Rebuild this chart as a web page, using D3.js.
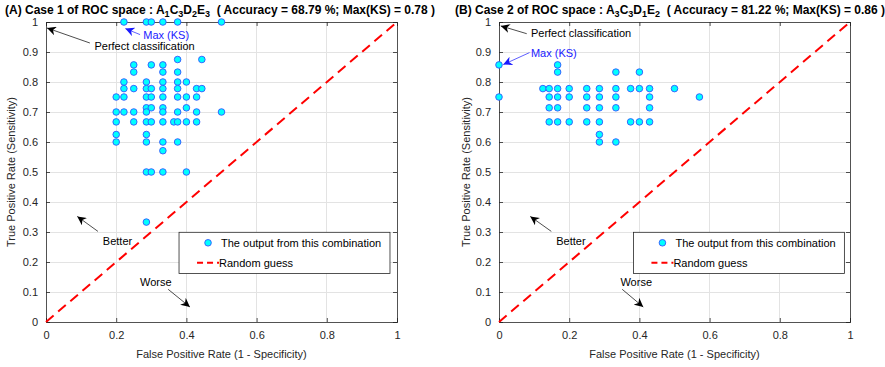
<!DOCTYPE html>
<html><head><meta charset="utf-8">
<script src="https://cdn.jsdelivr.net/npm/d3@7"></script>
<style>
html,body{margin:0;padding:0;background:#fff;}
svg{display:block;font-family:"Liberation Sans",Arial,Helvetica,sans-serif;}
text{white-space:pre;}
</style></head><body>
<svg id="chart" width="885" height="367"></svg>
<script>
// ---------- data ----------
const xTicks = [0, 0.2, 0.4, 0.6, 0.8, 1];
const yTicks = [0, 0.1, 0.2, 0.3, 0.4, 0.5, 0.6, 0.7, 0.8, 0.9, 1];
const xTickLabels = ["0", "0.2", "0.4", "0.6", "0.8", "1"];
const yTickLabels = ["0", "0.1", "0.2", "0.3", "0.4", "0.5", "0.6", "0.7", "0.8", "0.9", "1"];

// Case 1 (A): false positive rate, true positive rate
const fprA = [0.222,0.286,0.3,0.333,0.375,0.5,
  0.375,0.444,
  0.25,0.3,0.333,
  0.25,0.333,0.375,
  0.222,0.286,0.333,0.375,0.4,
  0.222,0.25,0.286,0.3,0.333,0.375,0.429,0.444,
  0.2,0.222,0.286,0.3,0.333,0.375,0.4,0.429,
  0.286,0.3,0.333,0.4,
  0.2,0.222,0.25,0.286,0.333,0.375,0.429,0.5,
  0.2,0.25,0.286,0.3,0.333,0.364,0.375,0.4,0.429,
  0.2,0.286,
  0.2,0.286,0.333,0.375,
  0.333,
  0.286,0.3,0.333,0.4,
  0.286];
const tprA = [1,1,1,1,1,1,
  0.875,0.875,
  0.857,0.857,0.857,
  0.833,0.833,0.833,
  0.8,0.8,0.8,0.8,0.8,
  0.778,0.778,0.778,0.778,0.778,0.778,0.778,0.778,
  0.75,0.75,0.75,0.75,0.75,0.75,0.75,0.75,
  0.714,0.714,0.714,0.714,
  0.7,0.7,0.7,0.7,0.7,0.7,0.7,0.7,
  0.667,0.667,0.667,0.667,0.667,0.667,0.667,0.667,0.667,
  0.625,0.625,
  0.6,0.6,0.6,0.6,
  0.571,
  0.5,0.5,0.5,0.5,
  0.333];

// Case 2 (B)
const fprB = [0,0,
  0.167,
  0.167,0.333,0.4,
  0.125,0.143,0.167,0.2,0.25,0.286,0.333,0.375,0.4,0.429,0.5,
  0.143,0.167,0.2,0.25,0.286,0.333,0.429,0.571,
  0.143,0.167,0.25,0.286,0.333,0.429,
  0.143,0.167,0.2,0.25,0.286,0.375,0.4,0.429,
  0.286,
  0.286,0.333];
const tprB = [0.857,0.75,
  0.857,
  0.833,0.833,0.833,
  0.778,0.778,0.778,0.778,0.778,0.778,0.778,0.778,0.778,0.778,0.778,
  0.75,0.75,0.75,0.75,0.75,0.75,0.75,0.75,
  0.714,0.714,0.714,0.714,0.714,0.714,
  0.667,0.667,0.667,0.667,0.667,0.667,0.667,0.667,
  0.625,
  0.6,0.6];

const randomGuess = [[0,0],[1,1]];

// ---------- layout ----------
const svg = d3.select("#chart");
const axisColor = "#262626";
const gridColor = "#e3e3e3";
const yTop = 22, yBot = 322;

const panels = [
  { x0: 46, x1: 397, fpr: fprA, tpr: tprA,
    titleX: 5, pre: "(A) Case 1 of ROC space : ",
    comb: [["A","1"],["C","3"],["D","2"],["E","3"]],
    post: "\u00a0\u00a0( Accuracy = 68.79 %; Max(KS) = 0.78 )",
    ylabelX: 15,
    perfect: {tip:[0.003,0.98], tail:[0.125,0.93], text:[0.138,0.907]},
    maxks: {tip:[0.226,0.978], tail:[0.268,0.958], text:[0.277,0.942]},
    better: {tip:[0.089,0.352], tail:[0.148,0.302], text:[0.162,0.256]},
    worse: {tail:[0.348,0.109], tip:[0.41,0.05], text:[0.268,0.119]},
    legend: {left:0.379, right:0.98, top:0.299, bottom:0.162}
  },
  { x0: 499, x1: 850, fpr: fprB, tpr: tprB,
    titleX: 455, pre: "(B) Case 2 of ROC space : ",
    comb: [["A","3"],["C","3"],["D","1"],["E","2"]],
    post: "\u00a0\u00a0( Accuracy = 81.22 %; Max(KS) = 0.86 )",
    ylabelX: 470,
    perfect: {tip:[0.005,0.987], tail:[0.079,0.961], text:[0.091,0.95]},
    maxks: {tip:[0.012,0.858], tail:[0.087,0.898], text:[0.091,0.883]},
    better: {tip:[0.089,0.352], tail:[0.149,0.302], text:[0.163,0.256]},
    worse: {tail:[0.351,0.109], tip:[0.411,0.05], text:[0.346,0.119]},
    legend: {left:0.383, right:0.984, top:0.299, bottom:0.162}
  }
];

const defs = svg.append("defs");
function arrowMarker(id, color){
  defs.append("marker").attr("id", id)
    .attr("viewBox","0 0 10 10").attr("refX",10).attr("refY",5)
    .attr("markerWidth",9).attr("markerHeight",9).attr("markerUnits","userSpaceOnUse")
    .attr("orient","auto")
    .append("path").attr("d","M0,0 L10,5 L0,10 L3,5 Z").attr("fill",color);
}
arrowMarker("arrK","#000");
arrowMarker("arrB","#1a1aff");

panels.forEach(p => {
  const x = d3.scaleLinear().domain([0,1]).range([p.x0, p.x1]);
  const y = d3.scaleLinear().domain([0,1]).range([yBot, yTop]);
  const g = svg.append("g");

  // grid
  g.append("g").selectAll("line").data(xTicks.slice(1,-1)).join("line")
    .attr("x1", d=>x(d)).attr("x2", d=>x(d)).attr("y1", yTop).attr("y2", yBot)
    .attr("stroke", gridColor).attr("stroke-width",1).attr("shape-rendering","crispEdges");
  g.append("g").selectAll("line").data(yTicks.slice(1,-1)).join("line")
    .attr("y1", d=>y(d)).attr("y2", d=>y(d)).attr("x1", p.x0).attr("x2", p.x1)
    .attr("stroke", gridColor).attr("stroke-width",1).attr("shape-rendering","crispEdges");

  // axes
  const xAxis = d3.axisBottom(x).tickValues(xTicks).tickFormat((d,i)=>xTickLabels[i]).tickSize(-4).tickPadding(9);
  const yAxis = d3.axisLeft(y).tickValues(yTicks).tickFormat((d,i)=>yTickLabels[i]).tickSize(-4).tickPadding(8);
  const xTop = d3.axisTop(x).tickValues(xTicks).tickFormat("").tickSize(-4);
  const yRight = d3.axisRight(y).tickValues(yTicks).tickFormat("").tickSize(-4);
  [[xAxis,`translate(0,${yBot})`],[yAxis,`translate(${p.x0},0)`],[xTop,`translate(0,${yTop})`],[yRight,`translate(${p.x1},0)`]]
    .forEach(([ax,tr]) => {
      const a = g.append("g").attr("transform", tr).call(ax);
      a.select(".domain").attr("stroke", axisColor).attr("stroke-width",0.8);
      a.selectAll(".tick line").attr("stroke", axisColor).attr("stroke-width",0.8);
      a.selectAll("text").attr("fill", axisColor).attr("font-size", 11)
        .attr("font-family",'"Liberation Sans",Arial,sans-serif');
    });

  // random guess
  g.append("path").datum(randomGuess)
    .attr("d", d3.line().x(d=>x(d[0])).y(d=>y(d[1])))
    .attr("stroke","#ff0000").attr("stroke-width",2).attr("stroke-dasharray","10,6").attr("fill","none");

  // points
  const pts = p.fpr.map((v,i)=>({fpr:v, tpr:p.tpr[i]}));
  g.append("g").selectAll("circle").data(pts).join("circle")
    .attr("cx", d=>x(d.fpr)).attr("cy", d=>y(d.tpr)).attr("r", 3.3)
    .attr("fill","#00ffff").attr("stroke","#3355ff").attr("stroke-width",0.9);

  // annotations
  function arrow(a, color, mk){
    g.append("line").attr("x1", x(a.tail[0])).attr("y1", y(a.tail[1]))
      .attr("x2", x(a.tip[0])).attr("y2", y(a.tip[1]))
      .attr("stroke", color).attr("stroke-width",0.7).attr("marker-end",`url(#${mk})`);
  }
  function label(pos, txt, color){
    g.append("text").attr("x", x(pos[0])).attr("y", y(pos[1]))
      .attr("font-size",11).attr("fill",color).text(txt);
  }
  arrow(p.perfect,"#000","arrK"); label(p.perfect.text,"Perfect classification","#000");
  arrow(p.maxks,"#1a1aff","arrB"); label(p.maxks.text,"Max (KS)","#1a1aff");
  arrow(p.better,"#000","arrK"); label(p.better.text,"Better","#000");
  arrow(p.worse,"#000","arrK"); label(p.worse.text,"Worse","#000");

  // legend
  const L = p.legend;
  const lx = x(L.left), rx = x(L.right), ty = y(L.top), by = y(L.bottom);
  g.append("rect").attr("x", lx).attr("y", ty).attr("width", rx-lx).attr("height", by-ty)
    .attr("fill","#fff").attr("stroke","#262626").attr("stroke-width",0.8);
  g.append("circle").attr("cx", lx+29).attr("cy", ty+10.5).attr("r",3.3)
    .attr("fill","#00ffff").attr("stroke","#3355ff").attr("stroke-width",0.9);
  g.append("text").attr("x", lx+42).attr("y", ty+14.5).attr("font-size",11).attr("fill","#000")
    .text("The output from this combination");
  g.append("line").attr("x1", lx+18).attr("x2", lx+40).attr("y1", ty+30.5).attr("y2", ty+30.5)
    .attr("stroke","#ff0000").attr("stroke-width",2).attr("stroke-dasharray","6,4");
  g.append("text").attr("x", lx+40).attr("y", ty+34.5).attr("font-size",11).attr("fill","#000")
    .text("Random guess");

  // axis titles
  svg.append("text").attr("x", (p.x0+p.x1)/2).attr("y", 358).attr("text-anchor","middle")
    .attr("font-size",11).attr("fill",axisColor).text("False Positive Rate (1 - Specificity)");
  svg.append("text").attr("transform",`translate(${p.ylabelX},${(yTop+yBot)/2}) rotate(-90)`)
    .attr("text-anchor","middle").attr("font-size",11).attr("fill",axisColor)
    .text("True Positive Rate (Sensitivity)");

  // title
  const t = svg.append("text").attr("x", p.titleX).attr("y", 14).attr("font-size",12)
    .attr("font-weight","bold").attr("fill","#000");
  t.append("tspan").text(p.pre);
  p.comb.forEach(([a,s], i) => {
    t.append("tspan").attr("dy", i === 0 ? 0 : -3).text(a);
    t.append("tspan").attr("font-size",9).attr("dy",3).text(s);
  });
  t.append("tspan").attr("dy",-3).text(p.post);
});
</script>
</body></html>
